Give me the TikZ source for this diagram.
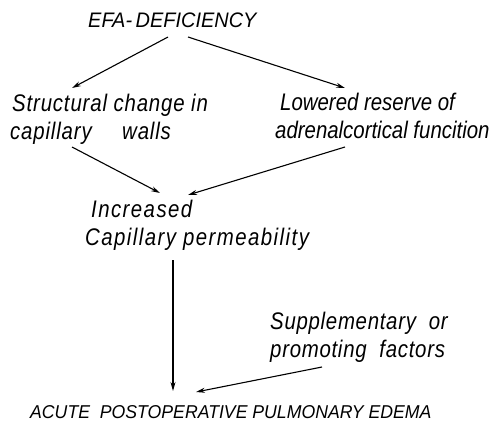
\documentclass[tikz,border=0pt]{standalone}
\usepackage{fontspec}
\newfontfamily\hand{Liberation Sans}[FakeStretch=0.85]
\newfontfamily\handcaps{Liberation Sans}[FakeStretch=0.95]
\usetikzlibrary{positioning, arrows.meta}

\begin{document}
\begin{tikzpicture}[x=1pt, y=-1pt, every node/.style={inner sep=0pt, align=left, anchor=north west},
    txt/.style={font=\hand\itshape\fontsize{24}{28}\selectfont\addfontfeature{LetterSpace=#1}},
    caps/.style={font=\handcaps\itshape\fontsize{#1}{#1}\selectfont},
    arr/.style={-{Stealth[length=9pt,width=5pt]}, line width=1.1pt}]
        \useasboundingbox (0,0) rectangle (500,421);
        % Components
        \node[caps=21] (efa) at (88,13) {EFA-\,DEFICIENCY};
        \node[txt=3.5] (structural) at (10,94) {\hspace*{2pt}Structural change in\\capillary \quad walls};
        \node[txt=0] (reserve) at (275,93) {\hspace*{5pt}Lowered reserve of\\adrenalcortical funcition};
        \node[txt=6] (permeability) at (85,200) {\hspace*{6pt}Increased\\Capillary permeability};
        \node[txt=3] (factors) at (270,312) {Supplementary \ or\\promoting \ factors};
        \node[caps=18.6] (edema) at (30,405) {ACUTE \ POSTOPERATIVE PULMONARY EDEMA};
        % Arrows
        \draw[arr] ([shift={(80,24)}]efa.north west) -- ([shift={(62,-6)}]structural.north west);
        \draw[arr] ([shift={(100,24)}]efa.north west) -- ([shift={(70,-5)}]reserve.north west);
        \draw[arr] ([shift={(62,53)}]structural.north west) -- ([shift={(75,-7)}]permeability.north west);
        \draw[arr] ([shift={(70,54)}]reserve.north west) -- ([shift={(103,-5)}]permeability.north west);
        \draw[arr] ([shift={(88,60)}]permeability.north west) -- ([shift={(143,-14)}]edema.north west);
        \draw[arr] ([shift={(52,55)}]factors.north west) -- ([shift={(166,-13)}]edema.north west);
    \end{tikzpicture}
\end{document}
